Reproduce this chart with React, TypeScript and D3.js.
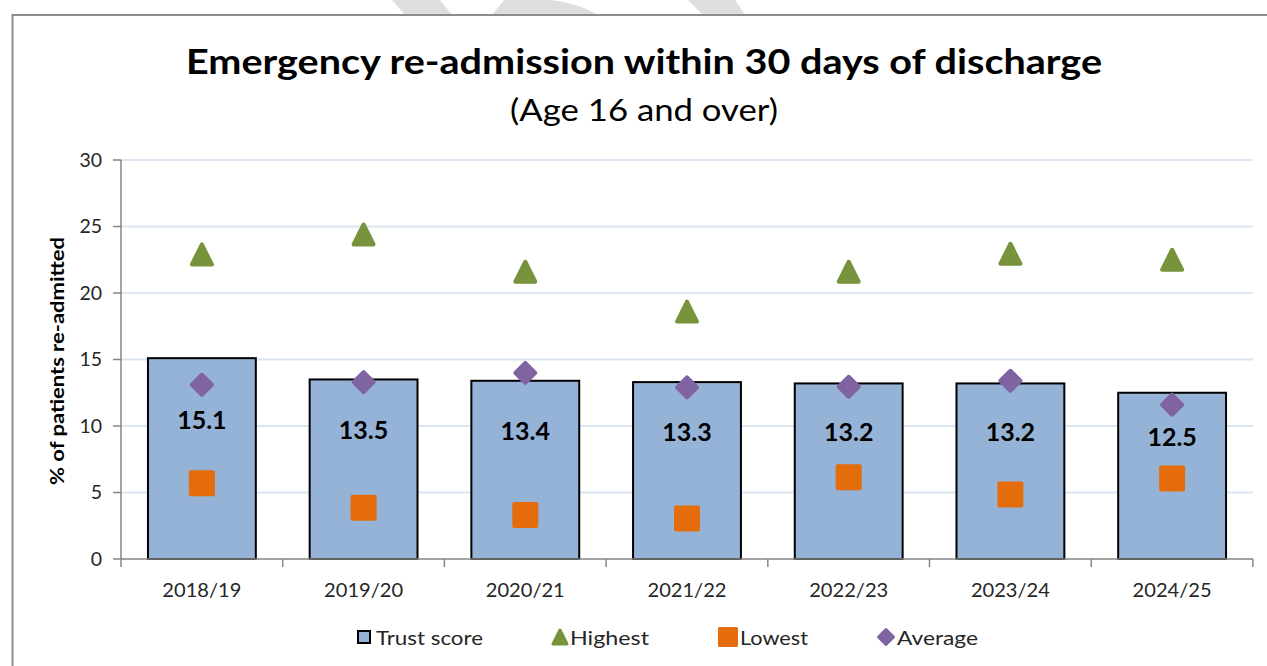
import * as d3 from 'd3';
import React from 'react';

// chart values
const years = ['2018/19', '2019/20', '2020/21', '2021/22', '2022/23', '2023/24', '2024/25'];
const trustScore = [15.1, 13.5, 13.4, 13.3, 13.2, 13.2, 12.5];
const highest = [22.9, 24.4, 21.6, 18.6, 21.6, 22.95, 22.5];
const lowest = [5.7, 3.85, 3.3, 3.05, 6.15, 4.85, 6.05];
const average = [13.1, 13.3, 14.0, 12.9, 12.95, 13.4, 11.6];
const yTicks = [0, 5, 10, 15, 20, 25, 30];
const legendItems = ['Trust score', 'Highest', 'Lowest', 'Average'];

const W = 1267;
const H = 666;
const FONT = 'Lato, "Open Sans", sans-serif';

const colors = {
  bar: '#95b3d7',
  high: '#77933c',
  low: '#e46c0a',
  avg: '#8064a2',
  grid: '#dce6f2',
  axis: '#868686',
  text: '#262626',
};

// marker paths centred on (cx, cy), s = box size
function trianglePath(cx: number, cy: number, s: number) {
  const p = d3.path();
  p.moveTo(cx, cy - s / 2);
  p.lineTo(cx + s / 2, cy + s / 2);
  p.lineTo(cx - s / 2, cy + s / 2);
  p.closePath();
  return p.toString();
}
function squarePath(cx: number, cy: number, s: number) {
  const p = d3.path();
  p.rect(cx - s / 2, cy - s / 2, s, s);
  return p.toString();
}
function diamondPath(cx: number, cy: number, s: number) {
  const p = d3.path();
  p.moveTo(cx, cy - s / 2);
  p.lineTo(cx + s / 2, cy);
  p.lineTo(cx, cy + s / 2);
  p.lineTo(cx - s / 2, cy);
  p.closePath();
  return p.toString();
}

export default function App() {
  const margin = { top: 160, right: 14, bottom: 107, left: 121 };
  const plotRight = W - margin.right;
  const plotBottom = H - margin.bottom;

  const x = d3
    .scaleBand()
    .domain(years)
    .range([margin.left, plotRight])
    .paddingInner(0.333)
    .paddingOuter(0.1667);
  const y = d3.scaleLinear().domain([0, 30]).range([plotBottom, margin.top]);

  const step = x.step();
  const cx = (d: string) => (x(d) as number) + x.bandwidth() / 2;
  const tickXs = d3.range(years.length + 1).map((i) => margin.left + i * step);

  return (
    <svg
      width={W}
      height={H}
      style={{ position: 'absolute', left: 0, top: 0, background: '#fff' }}
      fontFamily={FONT}
    >
      {/* faint watermark pieces above the frame */}
      <g fill="#dedede">
        <path d="M392,0 L440,0 L452,15 L405,15 Z" />
        <path d="M492,15 L504,0 L552,0 Q580,4 598,15 Z" />
        <path d="M688,0 L735,0 L745,15 L703,15 Z" />
      </g>

      {/* frame */}
      <path d={`M12.5,${H} L12.5,15 L${W},15`} fill="none" stroke="#8c8c8c" strokeWidth={2} />

      {/* titles */}
      <text
        x={644}
        y={74}
        textAnchor="middle"
        fontSize={34}
        fontWeight={700}
        fill="#000"
        textLength={916}
        lengthAdjust="spacingAndGlyphs"
      >
        Emergency re-admission within 30 days of discharge
      </text>
      <text
        x={644}
        y={121}
        textAnchor="middle"
        fontSize={31}
        fill="#000"
        textLength={268}
        lengthAdjust="spacingAndGlyphs"
      >
        (Age 16 and over)
      </text>

      {/* gridlines */}
      {yTicks.slice(1).map((t) => (
        <line
          key={t}
          x1={margin.left}
          x2={plotRight}
          y1={y(t)}
          y2={y(t)}
          stroke={colors.grid}
          strokeWidth={2}
        />
      ))}

      {/* bars */}
      {years.map((d, i) => (
        <rect
          key={d}
          x={x(d)}
          y={y(trustScore[i])}
          width={x.bandwidth()}
          height={plotBottom - y(trustScore[i])}
          fill={colors.bar}
          stroke="#000"
          strokeWidth={2}
        />
      ))}

      {/* axes */}
      <g stroke={colors.axis} strokeWidth={1.5}>
        <line x1={margin.left} x2={margin.left} y1={margin.top} y2={plotBottom} />
        <line x1={margin.left} x2={plotRight} y1={plotBottom} y2={plotBottom} />
        {yTicks.map((t) => (
          <line key={t} x1={margin.left - 8} x2={margin.left} y1={y(t)} y2={y(t)} />
        ))}
        {tickXs.map((tx, i) => (
          <line key={i} x1={tx} x2={tx} y1={plotBottom} y2={plotBottom + 8} />
        ))}
      </g>
      {yTicks.map((t) => (
        <text
          key={t}
          x={margin.left - 19}
          y={y(t)}
          dy="0.35em"
          textAnchor="end"
          fontSize={19.5}
          fill={colors.text}
        >
          {t}
        </text>
      ))}
      {years.map((d) => (
        <text
          key={d}
          x={cx(d)}
          y={597}
          textAnchor="middle"
          fontSize={19.5}
          fill={colors.text}
          textLength={79}
          lengthAdjust="spacingAndGlyphs"
        >
          {d}
        </text>
      ))}
      <text
        transform={`translate(64,${(237 + 485) / 2}) rotate(-90)`}
        textAnchor="middle"
        fontSize={19}
        fontWeight={700}
        fill="#000"
        textLength={248}
        lengthAdjust="spacingAndGlyphs"
      >
        % of patients re-admitted
      </text>

      {/* markers */}
      {years.map((d, i) => (
        <g key={d} strokeLinejoin="round" strokeWidth={4}>
          <path d={trianglePath(cx(d), y(highest[i]), 20)} fill={colors.high} stroke={colors.high} />
          <path d={squarePath(cx(d), y(lowest[i]), 22)} fill={colors.low} stroke={colors.low} />
          <path d={diamondPath(cx(d), y(average[i]), 20)} fill={colors.avg} stroke={colors.avg} />
        </g>
      ))}

      {/* data labels */}
      {years.map((d, i) => (
        <text
          key={d}
          x={cx(d)}
          y={(y(trustScore[i]) + 50 + y(9.6)) / 2}
          dy="0.36em"
          textAnchor="middle"
          fontSize={25}
          fontWeight={700}
          fill="#000"
        >
          {trustScore[i].toFixed(1)}
        </text>
      ))}

      {/* legend */}
      <g fontSize={19.5} fill={colors.text}>
        <rect x={358} y={631} width={12} height={12} fill={colors.bar} stroke="#000" strokeWidth={2} />
        <text x={376} y={645} textLength={107} lengthAdjust="spacingAndGlyphs">
          {legendItems[0]}
        </text>
        <path
          d={trianglePath(560, 637, 14)}
          fill={colors.high}
          stroke={colors.high}
          strokeWidth={3}
          strokeLinejoin="round"
        />
        <text x={570} y={645} textLength={79} lengthAdjust="spacingAndGlyphs">
          {legendItems[1]}
        </text>
        <path
          d={squarePath(728, 637, 17)}
          fill={colors.low}
          stroke={colors.low}
          strokeWidth={3}
          strokeLinejoin="round"
        />
        <text x={740} y={645} textLength={68} lengthAdjust="spacingAndGlyphs">
          {legendItems[2]}
        </text>
        <path
          d={diamondPath(886, 637, 15)}
          fill={colors.avg}
          stroke={colors.avg}
          strokeWidth={3}
          strokeLinejoin="round"
        />
        <text x={897} y={645} textLength={81} lengthAdjust="spacingAndGlyphs">
          {legendItems[3]}
        </text>
      </g>
    </svg>
  );
}
